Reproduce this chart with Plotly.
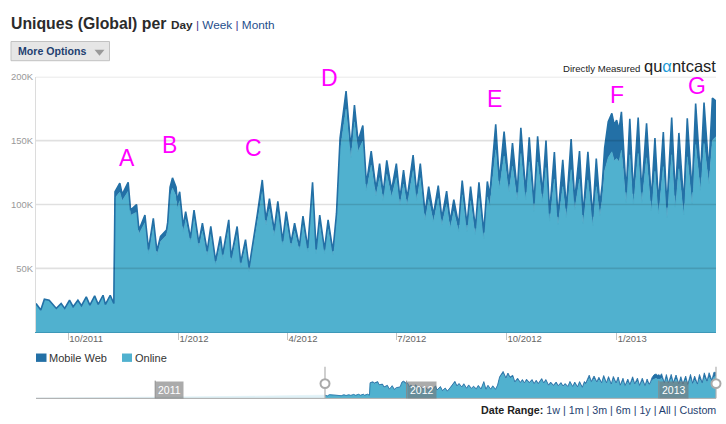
import plotly.graph_objects as go

# ---------------- data (values in thousands of uniques) ----------------
dates = [
    "2011-09-04", "2011-09-08", "2011-09-11", "2011-09-15", "2011-09-21", "2011-09-25", "2011-09-28",
    "2011-10-02", "2011-10-05", "2011-10-09", "2011-10-12", "2011-10-16", "2011-10-19", "2011-10-23",
    "2011-10-26", "2011-10-30", "2011-11-01", "2011-11-05", "2011-11-08",
    "2011-11-09", "2011-11-13", "2011-11-15", "2011-11-20", "2011-11-22", "2011-11-27", "2011-11-29",
    "2011-12-04", "2011-12-07", "2011-12-11", "2011-12-14", "2011-12-17", "2011-12-22", "2011-12-23",
    "2011-12-25", "2011-12-27", "2011-12-30", "2011-12-31", "2012-01-02", "2012-01-05", "2012-01-07",
    "2012-01-11", "2012-01-14", "2012-01-18", "2012-01-21", "2012-01-25", "2012-01-28", "2012-02-01",
    "2012-02-05", "2012-02-07", "2012-02-12", "2012-02-14", "2012-02-19", "2012-02-22", "2012-02-26",
    "2012-02-29", "2012-03-04", "2012-03-07", "2012-03-11", "2012-03-14", "2012-03-17", "2012-03-21",
    "2012-03-24", "2012-03-28", "2012-03-31", "2012-04-04", "2012-04-07", "2012-04-11", "2012-04-14",
    "2012-04-18", "2012-04-22", "2012-04-25", "2012-04-28", "2012-05-02", "2012-05-05", "2012-05-09",
    "2012-05-12", "2012-05-15", "2012-05-20", "2012-05-24", "2012-05-27", "2012-05-30", "2012-06-03",
    "2012-06-06", "2012-06-10", "2012-06-14", "2012-06-17", "2012-06-20", "2012-06-23", "2012-06-27",
    "2012-07-01", "2012-07-04", "2012-07-07", "2012-07-10", "2012-07-15", "2012-07-18", "2012-07-21",
    "2012-07-25", "2012-07-28", "2012-08-01", "2012-08-05", "2012-08-08", "2012-08-12", "2012-08-15",
    "2012-08-18", "2012-08-22", "2012-08-25", "2012-08-29", "2012-09-01", "2012-09-05", "2012-09-08",
    "2012-09-12", "2012-09-15", "2012-09-17", "2012-09-22", "2012-09-25", "2012-09-29", "2012-10-03",
    "2012-10-06", "2012-10-10", "2012-10-13", "2012-10-17", "2012-10-20", "2012-10-24", "2012-10-27",
    "2012-10-31", "2012-11-03", "2012-11-06", "2012-11-10", "2012-11-13", "2012-11-17", "2012-11-20",
    "2012-11-24", "2012-11-27", "2012-12-01", "2012-12-04", "2012-12-08", "2012-12-12", "2012-12-15",
    "2012-12-18", "2012-12-20", "2012-12-22", "2012-12-25", "2012-12-28", "2012-12-30", "2013-01-01",
    "2013-01-03", "2013-01-05", "2013-01-09", "2013-01-12", "2013-01-15", "2013-01-19", "2013-01-22",
    "2013-01-26", "2013-01-30", "2013-02-02", "2013-02-05", "2013-02-09", "2013-02-12", "2013-02-16",
    "2013-02-19", "2013-02-22", "2013-02-26", "2013-03-01", "2013-03-05", "2013-03-08", "2013-03-12",
    "2013-03-15", "2013-03-19", "2013-03-22", "2013-03-25",
]

online = [
    22.2, 17.1, 25.6, 24.8, 18.4, 22.2, 18.4,
    24.8, 19.7, 24.8, 20.5, 27.4, 21.0, 28.2,
    21.5, 28.7, 21.5, 28.7, 22.2,
    105, 109.7, 103, 110.4, 91.6, 94, 77,
    85.8, 61.8, 83.2, 60.6, 71, 76, 81,
    106.6, 112.8, 106.6, 97, 103, 78.8, 88.4,
    70.8, 89.6, 67, 79.4, 60.6, 76.8, 52.9,
    70, 58, 82, 55.5, 76.8, 51.6, 67.5,
    47.8, 68.8, 87, 110.2, 84, 96.6, 76,
    94.5, 68.3, 87.4, 67, 79.4, 64.4, 84,
    63, 109.4, 61.8, 84.8, 61.8, 81, 60.6,
    86, 142, 174.7, 136.4, 164.7, 141.5, 149.8,
    111, 130.8, 107, 121, 103.5, 123.6, 106,
    121, 99.6, 116, 99.6, 126.7, 103.5, 121,
    88, 104, 86.8, 104.8, 84.2, 100.5, 81.7,
    94.8, 79, 107.7, 79, 103, 76.5, 105.4,
    73.2, 106, 99, 142.8, 112.7, 138, 110,
    130, 103.7, 140, 103.7, 133.5, 94.8, 133.3,
    102.5, 129, 87, 120, 84.5, 114, 90,
    127.3, 96, 119.8, 84.8, 119.3, 83.5, 114,
    91.5, 104, 126.4, 136.8, 141.3, 134.3, 136,
    133.5, 142.5, 101.7, 139, 100.5, 140, 101.7,
    136.6, 95, 126, 92.8, 129.7, 89.7, 139,
    98, 128, 91.8, 137.4, 100.7, 147, 111.3,
    147.8, 116.4, 150.3, 153,
]

mobile_web = [
    0.3, 0.3, 0.3, 0.3, 0.3, 0.3, 0.3,
    0.3, 0.3, 0.3, 0.3, 0.3, 0.3, 0.3,
    0.3, 0.3, 0.3, 0.3, 0.3,
    5, 7, 5, 7, 4, 6, 3,
    6, 3, 6, 3, 4, 4, 5,
    7, 8, 7, 6, 7, 4, 6,
    3, 6, 3, 6, 3, 6, 3,
    5, 3, 6, 3, 6, 3, 5,
    3, 5, 6, 9, 4, 8, 4,
    8, 3, 7, 3, 6, 3, 7,
    3, 8, 3, 7, 3, 7, 3,
    7, 10, 14, 8, 13, 8, 12,
    5, 11, 5, 11, 5, 11, 5,
    11, 5, 11, 5, 12, 5, 11,
    5, 10, 5, 10, 5, 10, 5,
    9, 5, 11, 5, 11, 5, 12,
    5, 12, 8, 20, 6, 19, 6,
    18, 6, 20, 6, 19, 6, 20,
    6, 21, 6, 21, 6, 21, 7,
    24, 7, 22, 7, 22, 7, 22,
    8, 12, 18, 28, 30, 28, 30,
    25, 30, 8, 28, 8, 28, 8,
    27, 8, 26, 8, 27, 8, 29,
    9, 28, 9, 30, 9, 32, 10,
    32, 10, 33, 28,
]

# earlier history, shown only (faded) in the navigator
early_dates = ["2010-07-12", "2010-09-01", "2010-11-01", "2011-01-01", "2011-03-01",
               "2011-05-01", "2011-07-01", "2011-08-15", "2011-09-04"]
early_values = [3, 4, 5, 8, 11, 14, 17, 20, 22.5]

x_tick_vals = ["2011-10-01", "2012-01-01", "2012-04-01", "2012-07-01", "2012-10-01", "2013-01-01"]
x_tick_text = ["10/2011", "1/2012", "4/2012", "7/2012", "10/2012", "1/2013"]
y_tick_vals = [50, 100, 150, 200]
y_tick_text = ["50K", "100K", "150K", "200K"]
nav_year_vals = ["2011-01-01", "2012-01-01", "2013-01-01"]
nav_year_text = ["2011", "2012", "2013"]
markers = ["A", "B", "C", "D", "E", "F", "G"]

# ---------------- styling helpers ----------------
W, H = 726, 424
def px(x):
    return x / W
def py(y):
    return 1 - y / H

C_ONLINE = "#50b1cf"
C_MOBILE = "#2370a6"
FONT = "Liberation Sans, Arial, Helvetica, sans-serif"

fig = go.Figure()

# main chart (stacked areas)
fig.add_trace(go.Scatter(x=dates, y=online, name="Online", mode="lines", stackgroup="main",
                         line=dict(width=0.6, color="#4aaccb"), fillcolor=C_ONLINE,
                         xaxis="x", yaxis="y", hoverinfo="skip"))
fig.add_trace(go.Scatter(x=dates, y=mobile_web, name="Mobile Web", mode="lines", stackgroup="main",
                         line=dict(width=1.6, color=C_MOBILE), fillcolor=C_MOBILE,
                         xaxis="x", yaxis="y", hoverinfo="skip"))

# navigator
fig.add_trace(go.Scatter(x=early_dates, y=early_values, mode="lines", fill="tozeroy",
                         line=dict(width=0.6, color="#4aaccb"), fillcolor=C_ONLINE,
                         xaxis="x2", yaxis="y2", hoverinfo="skip"))
fig.add_trace(go.Scatter(x=dates, y=online, mode="lines", stackgroup="nav",
                         line=dict(width=0.5, color="#4aaccb"), fillcolor=C_ONLINE,
                         xaxis="x2", yaxis="y2", hoverinfo="skip"))
fig.add_trace(go.Scatter(x=dates, y=mobile_web, mode="lines", stackgroup="nav",
                         line=dict(width=0.8, color=C_MOBILE), fillcolor=C_MOBILE,
                         xaxis="x2", yaxis="y2", hoverinfo="skip"))

shapes = []
# gridlines drawn above the areas
for v in y_tick_vals:
    shapes.append(dict(type="line", xref="paper", yref="y", x0=px(36), x1=px(716), y0=v, y1=v,
                       line=dict(color="rgba(0,0,0,0.12)", width=1.6), layer="above"))

# navigator mask, baseline and handles
shapes.append(dict(type="rect", xref="paper", yref="paper", x0=px(36), x1=px(325),
                   y0=py(398), y1=py(364), fillcolor="rgba(255,255,255,0.82)",
                   line=dict(width=0), layer="above"))
shapes.append(dict(type="line", xref="paper", yref="paper", x0=px(36), x1=px(716),
                   y0=py(398), y1=py(398), line=dict(color="#a8a8a8", width=1), layer="above"))
for hx in (325, 716):
    shapes.append(dict(type="line", xref="paper", yref="paper", x0=px(hx), x1=px(hx),
                       y0=py(366), y1=py(398), line=dict(color="#b0b0b0", width=1.2), layer="above"))
    shapes.append(dict(type="circle", xref="paper", yref="paper", x0=px(hx - 4.5), x1=px(hx + 4.5),
                       y0=py(387.5), y1=py(378.5), fillcolor="white",
                       line=dict(color="#aaaaaa", width=2), layer="above"))

# "More Options" button
shapes.append(dict(type="rect", xref="paper", yref="paper", x0=px(11), x1=px(109.5),
                   y0=py(55.5), y1=py(36), fillcolor="#e6e6e6",
                   line=dict(color="#c2c2c2", width=1), layer="above"))
shapes.append(dict(type="path", xref="paper", yref="paper",
                   path=f"M {px(94.5)} {py(44.5)} L {px(104.5)} {py(44.5)} L {px(99.5)} {py(50.5)} Z",
                   fillcolor="#9a9a9a", line=dict(width=0), layer="above"))

# legend swatches
shapes.append(dict(type="rect", xref="paper", yref="paper", x0=px(36), x1=px(46.5),
                   y0=py(361), y1=py(352.5), fillcolor=C_MOBILE, line=dict(width=0)))
shapes.append(dict(type="rect", xref="paper", yref="paper", x0=px(122), x1=px(132),
                   y0=py(361), y1=py(352.5), fillcolor=C_ONLINE, line=dict(width=0)))

annotations = []
def txt(text, x, y, size, color="#333", xanchor="left", family=FONT, **kw):
    annotations.append(dict(text=text, x=px(x), y=py(y), xref="paper", yref="paper",
                            xanchor=xanchor, yanchor="middle", showarrow=False,
                            font=dict(size=size, color=color, family=family), **kw))

txt("<b>Uniques (Global) per</b>", 9, 18, 15.8, color="#2b2b2b")
txt("<b>Day</b><span style='color:#4a3d8f'> | </span><span style='color:#1f4f8c'>Week</span>"
    "<span style='color:#4a3d8f'> | </span><span style='color:#1f4f8c'>Month</span>",
    168.5, 19, 11.8, color="#2b2b2b")
txt("<b>More Options</b>", 16, 46, 10.6, color="#1e3f70")
txt("Directly Measured", 641.5, 63.5, 9.6, color="#222", xanchor="right")
txt("qu<span style='color:#1a9ad8'>α</span>ntcast", 717.5, 61, 16.5, color="#222", xanchor="right")

txt("Mobile Web", 47, 357, 11, color="#333")
txt("Online", 133, 357, 11, color="#333")

txt("<b>Date Range:</b> <span style='color:#1f3f70'>1w | 1m | 3m | 6m | 1y | All | Custom</span>",
    717.5, 410, 10.7, color="#222", xanchor="right")

# event markers
marker_pos = [(127, 154), (169.5, 141.5), (253.5, 144), (329, 73), (494, 94.5), (616.5, 90.5), (696.5, 81)]
for m, (mx, my) in zip(markers, marker_pos):
    txt(m, mx, my, 23, color="#ff00ff", xanchor="center")

# navigator year labels
for yv, yt in zip(nav_year_vals, nav_year_text):
    annotations.append(dict(text=yt, x=yv, y=py(389.5), xref="x2", yref="paper",
                            xanchor="left", yanchor="middle", showarrow=False,
                            font=dict(size=10.5, color="white", family=FONT),
                            bgcolor="rgba(120,120,120,0.62)", borderpad=2))
    shapes.append(dict(type="line", xref="x2", yref="paper", x0=yv, x1=yv,
                       y0=py(398), y1=py(380), line=dict(color="#888", width=1), layer="above"))

fig.update_layout(
    width=W, height=H, margin=dict(l=0, r=0, t=0, b=0),
    paper_bgcolor="white", plot_bgcolor="white", showlegend=False,
    font=dict(family=FONT),
    xaxis=dict(domain=[px(36), px(716)], range=["2011-09-04", "2013-03-25"], type="date",
               tickvals=x_tick_vals, ticktext=x_tick_text, ticks="outside", ticklen=7,
               tickcolor="#c4c4c4", tickwidth=1, showgrid=False, zeroline=False,
               showline=True, linecolor="#3d98b8", linewidth=1,
               tickfont=dict(size=9.5, color="#666"), ticklabelposition="outside right",
               ticklabelstandoff=-3, anchor="y", fixedrange=True),
    yaxis=dict(domain=[py(331), py(71.7)], range=[0, 200], tickvals=y_tick_vals,
               ticktext=y_tick_text, showgrid=False, zeroline=False, showline=True,
               linecolor="#dcdcdc", ticks="", tickfont=dict(size=9.5, color="#999"),
               anchor="x", fixedrange=True),
    xaxis2=dict(domain=[px(36), px(716)], range=["2010-07-12", "2013-03-25"], type="date",
                showticklabels=False, showgrid=False, zeroline=False, showline=False,
                ticks="", anchor="y2", fixedrange=True),
    yaxis2=dict(domain=[py(398), py(364)], range=[0, 235], showticklabels=False,
                showgrid=False, zeroline=False, showline=False, ticks="", anchor="x2",
                fixedrange=True),
    shapes=shapes, annotations=annotations,
)

fig.write_html("out.html", config={"displayModeBar": False, "staticPlot": True},
               post_script="document.body.style.margin='0';document.body.style.overflow='hidden';")
